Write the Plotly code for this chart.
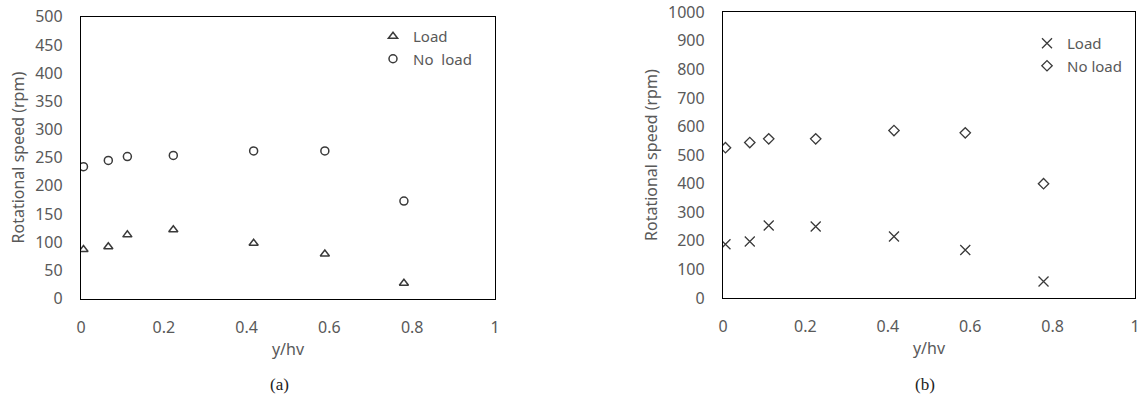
import plotly.graph_objects as go

# Data
x_a = [0.006, 0.066, 0.112, 0.223, 0.417, 0.589, 0.780]
load_a = [87, 92, 113, 122, 98, 79, 27]
noload_a = [234, 245, 252, 254, 262, 262, 173]

x_b = [0.006, 0.065, 0.111, 0.225, 0.415, 0.588, 0.778]
load_b = [188, 198, 254, 250, 215, 168, 58]
noload_b = [526, 544, 557, 557, 586, 578, 400]

yticks_a = list(range(0, 501, 50))
yticks_b = list(range(0, 1001, 100))
xticks = [0, 0.2, 0.4, 0.6, 0.8, 1]
xticklabels = ["0", "0.2", "0.4", "0.6", "0.8", "1"]

W, H = 1142, 398
def px(x):
    return x / W
def py(y):
    return 1 - y / H

FONT = "Noto Sans, Open Sans, sans-serif"
tick_font = dict(family=FONT, size=16, color="#595959")
mk_color = "#3a3a3a"

fig = go.Figure()
fig.add_trace(go.Scatter(x=x_a, y=load_a, mode="markers", name="Load",
                         marker=dict(symbol="triangle-up-open", size=8, color=mk_color, line=dict(width=1.5)),
                         xaxis="x", yaxis="y", legend="legend"))
fig.add_trace(go.Scatter(x=x_a, y=noload_a, mode="markers", name="No  load",
                         marker=dict(symbol="circle-open", size=8, color=mk_color, line=dict(width=1.5)),
                         xaxis="x", yaxis="y", legend="legend"))
fig.add_trace(go.Scatter(x=x_b, y=load_b, mode="markers", name="Load",
                         marker=dict(symbol="x-thin-open", size=10, color=mk_color, line=dict(width=1.3, color=mk_color)),
                         xaxis="x2", yaxis="y2", legend="legend2"))
fig.add_trace(go.Scatter(x=x_b, y=noload_b, mode="markers", name="No load",
                         marker=dict(symbol="diamond-open", size=8, color=mk_color, line=dict(width=1.3)),
                         xaxis="x2", yaxis="y2", legend="legend2"))

axis_common = dict(showgrid=False, zeroline=False, showline=True, linecolor="black", linewidth=1.3,
                   mirror=True, ticks="", tickfont=tick_font, automargin=False)

legend_font = dict(family=FONT, size=15, color="#595959")

fig.update_layout(
    width=W, height=H,
    margin=dict(l=0, r=0, t=0, b=0),
    paper_bgcolor="white", plot_bgcolor="white",
    xaxis=dict(domain=[px(81), px(495)], range=[0, 1], tickvals=xticks, ticktext=xticklabels,
               anchor="y", ticklabelstandoff=14,
               title=dict(text="y/hv", font=tick_font, standoff=6), **axis_common),
    yaxis=dict(domain=[py(298.5), py(16.8)], range=[0, 500], tickvals=yticks_a, anchor="x",
               ticklabelstandoff=14,
               title=dict(text="Rotational speed (rpm)", font=tick_font, standoff=6), **axis_common),
    xaxis2=dict(domain=[px(723), px(1135)], range=[0, 1], tickvals=xticks, ticktext=xticklabels,
                anchor="y2", ticklabelstandoff=14, ticklabeloverflow="allow",
                title=dict(text="y/hv", font=tick_font, standoff=6), **axis_common),
    yaxis2=dict(domain=[py(298), py(12.3)], range=[0, 1000], tickvals=yticks_b, anchor="x2",
                ticklabelstandoff=14,
                title=dict(text="Rotational speed (rpm)", font=tick_font, standoff=6), **axis_common),
    legend=dict(x=px(373), y=py(20), xanchor="left", yanchor="top", bgcolor="rgba(0,0,0,0)",
                font=legend_font, itemwidth=30, tracegroupgap=0),
    legend2=dict(x=px(1027), y=py(27), xanchor="left", yanchor="top", bgcolor="rgba(0,0,0,0)",
                 font=legend_font, itemwidth=30, tracegroupgap=0),
    showlegend=True,
    annotations=[
        dict(text="(a)", x=px(279), y=py(384), xref="paper", yref="paper", showarrow=False,
             xanchor="center", yanchor="middle",
             font=dict(family="Liberation Serif, DejaVu Serif, serif", size=17, color="#222")),
        dict(text="(b)", x=px(925), y=py(384), xref="paper", yref="paper", showarrow=False,
             xanchor="center", yanchor="middle",
             font=dict(family="Liberation Serif, DejaVu Serif, serif", size=17, color="#222")),
    ],
)

fig.write_html("out.html", config={"displayModeBar": False},
               post_script="document.body.style.margin='0';")
